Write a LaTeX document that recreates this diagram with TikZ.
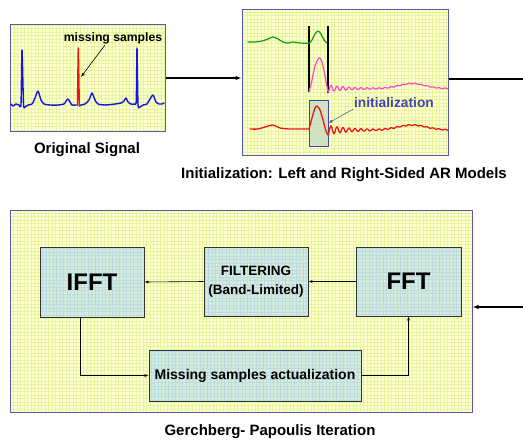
\documentclass[tikz,border=0pt]{standalone}
\usepackage{fontspec}
\setmainfont{Liberation Sans}
\usetikzlibrary{arrows.meta,positioning,calc}

\definecolor{paper}{HTML}{FFFFD4}
\definecolor{paperline}{HTML}{E6F59C}
\definecolor{panelblue}{HTML}{5A5AAA}
\definecolor{boxfill}{HTML}{D6EBDA}
\definecolor{boxline}{HTML}{BCDCE2}
\definecolor{ecgblue}{HTML}{1414E6}
\definecolor{ecgred}{HTML}{F01414}
\definecolor{arleft}{HTML}{129A12}
\definecolor{arright}{HTML}{FF44CC}
\definecolor{initblue}{HTML}{4646A6}
\definecolor{initfill}{HTML}{C8DCC4}

\begin{document}
\begin{tikzpicture}[
    x=1pt, y=-1pt,
    panel/.style={draw=panelblue, line width=1pt, fill=paper, inner sep=0pt,
        path picture={\draw[paperline, line width=0.4pt] (path picture bounding box.south west) grid[step=3.5pt] (path picture bounding box.north east);}},
    blk/.style={draw=black!80, line width=0.9pt, fill=boxfill, inner sep=0pt, align=center,
        path picture={\draw[boxline, line width=0.3pt] (path picture bounding box.south west) grid[step=3.5pt] (path picture bounding box.north east);}},
    captext/.style={font=\bfseries\fontsize{15}{18}\selectfont},
    flow/.style={-{Latex[length=4pt,width=3pt]}, line width=0.6pt},
    wave/.style={line width=1.4pt, line join=round, line cap=round}
]
\useasboundingbox (0,0) rectangle (523,440);

\node[panel, minimum width=155pt, minimum height=107pt] (sigpanel) at (87.5,77.5) {};
\node[panel, minimum width=206pt, minimum height=146pt] (initpanel) at (345,82) {};
\node[panel, minimum width=462pt, minimum height=202pt] (gppanel) at (241,311) {};

\node[captext] (sigcap) at (87,150) {Original Signal};
\node[captext] (initcap) at (344,175) {Initialization: Left and Right-Sided AR Models};
\node[captext] (gpcap) at (270,432) {Gerchberg- Papoulis Iteration};

% ECG trace with the gap
\draw[wave, ecgblue] plot[smooth, tension=0.4] coordinates {(11,104) (13,106) (16,104) (19,105) (21,104) (22,50) (23.5,104) (25,107) (28,105) (32,104) (35,98) (38,91) (41,100) (44,104) (50,105) (58,105) (64,104) (66,101) (68,99) (70,102) (72,105) (76,105) (77.5,105)};
\draw[wave, ecgblue] plot[smooth, tension=0.4] coordinates {(79.3,106) (81,105) (85,104) (89,100) (92,93) (95,100) (98,104) (105,105) (115,104) (121,103) (124,101) (126,98) (128,102) (131,104) (135,104) (136.3,100) (137,48) (138,104) (140,107) (143,105) (147,104) (150,99) (153,95) (156,102) (159,104) (162,104) (164,103)};
\draw[wave, ecgred] plot[smooth, tension=0.3] coordinates {(77.5,105) (78.3,48) (79.3,106)};

\node[font=\bfseries\fontsize{12.2}{14}\selectfont, inner sep=1pt] (misslbl) at (113,38) {missing samples};
\coordinate (gap) at (81,77);
\draw[flow] ([xshift=-8pt]misslbl.south) -- (gap);

% left and right AR predictions
\draw[black, line width=1.5pt] (309,26) -- (309,92);
\draw[black, line width=1.5pt] (328,26) -- (328,93);
\draw[wave, arleft, line width=1.2pt] plot[smooth, tension=0.5] coordinates {(248,42) (255,42) (262,41) (268,39) (273,37) (278,39) (283,42) (288,43) (293,42) (300,43) (309,43) (312,40) (315,34) (318,31) (321,34) (324,40) (327,43)};
\draw[wave, arright, line width=1.2pt] plot[smooth, tension=0.5] coordinates {(309,92) (312,80) (315,66) (319,58) (322,62) (325,76) (328,92)};
\draw[wave, arright, line width=1.2pt] plot[domain=328:448, samples=300, smooth] (\x, {88.5 + (3.2*exp((328-\x)/20)+0.3)*cos((\x-328)*60) - 5*exp(max(-9, 0-((\x-412)/18)*((\x-412)/18)))});

\node[draw=initblue, line width=1pt, fill=initfill, fill opacity=0.8, minimum width=19pt, minimum height=46pt, inner sep=0pt] (initbox) at (318.5,123) {};
\draw[wave, ecgred, line width=1.3pt] plot[smooth, tension=0.5] coordinates {(250,129) (258,129) (265,127) (273,125) (280,128) (290,129) (300,129) (309,129)};
\draw[wave, ecgred, line width=1.3pt] plot[smooth, tension=0.5] coordinates {(309,129) (312,118) (315,108) (317,106) (320,110) (323,120) (326,131) (328,135)};
\draw[wave, ecgred, line width=1.3pt] plot[domain=328:448, samples=300, smooth] (\x, {130 + (4.4*exp((328-\x)/20)+0.4)*cos((\x-328)*60) - 5*exp(max(-9, 0-((\x-412)/20)*((\x-412)/20)))});

\node[font=\bfseries\fontsize{13.8}{16}\selectfont, text=initblue, inner sep=1pt] (initlbl) at (394,103) {initialization};
\draw[flow, initblue, line width=0.5pt] (initlbl.south west) -- (initbox.east);

% signal flow between the panels
\coordinate (outR) at (523,79);
\coordinate (inR) at (523,307);
\draw[-{Latex[length=6pt,width=4.5pt]}, line width=1.2pt] (sigpanel.east |- 0,78) -- (initpanel.west |- 0,78);
\draw[line width=1.5pt] (initpanel.east |- outR) -- (outR);
\draw[-{Latex[length=6pt,width=4.5pt]}, line width=1.2pt] (inR) -- (inR -| gppanel.east);

\node[blk, minimum width=104pt, minimum height=70pt, font=\bfseries\fontsize{24}{28}\selectfont] (ifft) at (92,282) {IFFT};
\node[blk, minimum width=104pt, minimum height=69pt, font=\bfseries\fontsize{13.5}{19}\selectfont] (filt) at (256,281.5) {FILTERING\\(Band-Limited)};
\node[blk, minimum width=105pt, minimum height=69pt, font=\bfseries\fontsize{24}{28}\selectfont] (fft) at (408.5,281.5) {FFT};
\node[blk, minimum width=212pt, minimum height=51pt, font=\bfseries\fontsize{14}{17}\selectfont] (update) at (255,375.5) {Missing samples actualization};

\draw[flow] (fft.west) -- (filt.east);
\draw[flow] (filt.west) -- (ifft.east);
\draw[flow] ([xshift=-12pt]ifft.south) |- (update.west);
\draw[flow] (update.east) -| (fft.south);
\end{tikzpicture}
\end{document}
